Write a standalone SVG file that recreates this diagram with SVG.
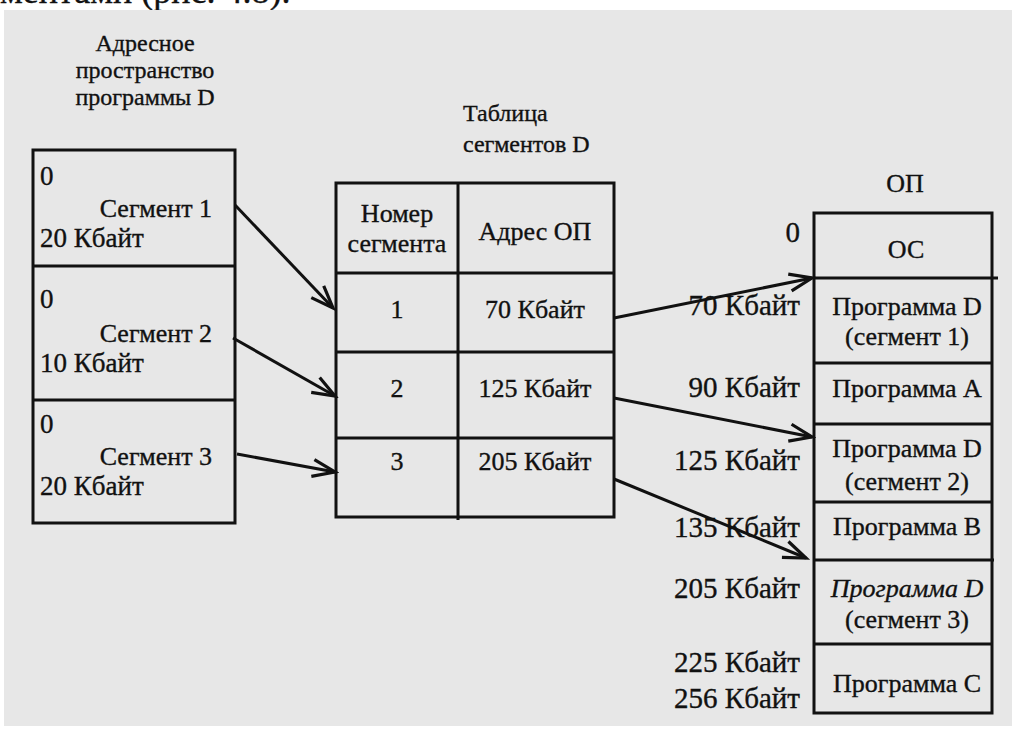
<svg xmlns="http://www.w3.org/2000/svg" width="1012" height="729" viewBox="0 0 1012 729">
<style>
.f text{font-family:'Liberation Serif','Times New Roman',serif;fill:#111;stroke:#111;stroke-width:0.35;font-size:26px}
.f .t{font-size:24px}
.f .big{font-size:29px}
.f .lb{font-size:27px}
.f .m{text-anchor:middle}
.f .e{text-anchor:end}
.box{fill:none;stroke:#111;stroke-width:3}
.ln{stroke:#111;stroke-width:3;fill:none}
.ar{stroke:#111;stroke-width:3;fill:none;marker-end:url(#ah)}
</style>
<defs>
<marker id="ah" markerUnits="userSpaceOnUse" markerWidth="30" markerHeight="30" viewBox="-24 -12 28 24" refX="0" refY="0" orient="auto">
<path d="M-21,-8 L0,0 L-21,8" fill="none" stroke="#111" stroke-width="3"/>
</marker>
</defs>
<rect x="0" y="0" width="1012" height="729" fill="#ffffff"/>
<g class="f">
<text x="0" y="3" style="font-size:36px">ментами (рис. 4.8).</text>
</g>
<rect x="4" y="10" width="1008" height="716" fill="#e7e7e7"/>

<g class="f">
<g id="title-left">
<text class="t m" x="145" y="51">Адресное</text>
<text class="t m" x="145" y="78">пространство</text>
<text class="t m" x="145" y="105">программы D</text>
</g>

<g id="program-d">
<rect class="box" x="33" y="150" width="202" height="373"/>
<line class="ln" x1="33" y1="266" x2="235" y2="266"/>
<line class="ln" x1="33" y1="400" x2="235" y2="400"/>
<g id="seg1">
<text class="lb" x="40" y="185">0</text>
<text class="e" x="212" y="217">Сегмент 1</text>
<text class="lb" x="40" y="247">20 Кбайт</text>
</g>
<g id="seg2">
<text class="lb" x="40" y="308">0</text>
<text class="e" x="212" y="342">Сегмент 2</text>
<text class="lb" x="40" y="372">10 Кбайт</text>
</g>
<g id="seg3">
<text class="lb" x="40" y="433">0</text>
<text class="e" x="212" y="465">Сегмент 3</text>
<text class="lb" x="40" y="495">20 Кбайт</text>
</g>
</g>

<g id="title-table">
<text class="t" x="463" y="121">Таблица</text>
<text class="t" x="463" y="152">сегментов D</text>
</g>

<g id="seg-table">
<rect class="box" x="336" y="183" width="278" height="334"/>
<line class="ln" x1="458" y1="183" x2="458" y2="520"/>
<line class="ln" x1="336" y1="273" x2="614" y2="273"/>
<line class="ln" x1="336" y1="352" x2="614" y2="352"/>
<line class="ln" x1="336" y1="438" x2="614" y2="438"/>
<text class="m" x="397" y="222">Номер</text>
<text class="m" x="397" y="252">сегмента</text>
<text class="m" x="535" y="240">Адрес ОП</text>
<text class="m" x="397" y="318">1</text>
<text class="m" x="535" y="318">70 Кбайт</text>
<text class="m" x="397" y="397">2</text>
<text class="m" x="535" y="397">125 Кбайт</text>
<text class="m" x="397" y="470">3</text>
<text class="m" x="535" y="470">205 Кбайт</text>
</g>

<g id="memory">
<text class="m" x="905" y="192">ОП</text>
<rect class="box" x="814" y="213" width="178" height="500"/>
<line class="ln" x1="814" y1="278" x2="998" y2="278"/>
<line class="ln" x1="814" y1="363" x2="992" y2="363"/>
<line class="ln" x1="814" y1="424" x2="992" y2="424"/>
<line class="ln" x1="814" y1="502" x2="992" y2="502"/>
<line class="ln" x1="814" y1="560" x2="994" y2="560"/>
<line class="ln" x1="814" y1="644" x2="992" y2="644"/>
<text class="big e" x="800" y="242">0</text>
<text class="big e" x="800" y="315">70 Кбайт</text>
<text class="big e" x="800" y="397">90 Кбайт</text>
<text class="big e" x="800" y="470">125 Кбайт</text>
<text class="big e" x="800" y="537">135 Кбайт</text>
<text class="big e" x="800" y="598">205 Кбайт</text>
<text class="big e" x="800" y="672">225 Кбайт</text>
<text class="big e" x="800" y="708">256 Кбайт</text>
<text class="m" x="906" y="258">ОС</text>
<text class="m" x="907" y="315">Программа D</text>
<text class="m" x="907" y="345">(сегмент 1)</text>
<text class="m" x="907" y="397">Программа A</text>
<text class="m" x="907" y="457">Программа D</text>
<text class="m" x="907" y="490">(сегмент 2)</text>
<text class="m" x="907" y="535">Программа B</text>
<text class="m" x="907" y="597" font-style="italic">Программа D</text>
<text class="m" x="907" y="628">(сегмент 3)</text>
<text class="m" x="907" y="692">Программа C</text>
</g>
</g>

<g id="connectors">
<line class="ar" x1="235" y1="205" x2="333" y2="308"/>
<line class="ar" x1="233" y1="338" x2="335" y2="396"/>
<line class="ar" x1="237" y1="454" x2="335" y2="472"/>
<line class="ar" x1="614" y1="318" x2="812" y2="278"/>
<line class="ar" x1="614" y1="398" x2="812" y2="437"/>
<line class="ar" x1="614" y1="479" x2="806" y2="558"/>
</g>
</svg>
